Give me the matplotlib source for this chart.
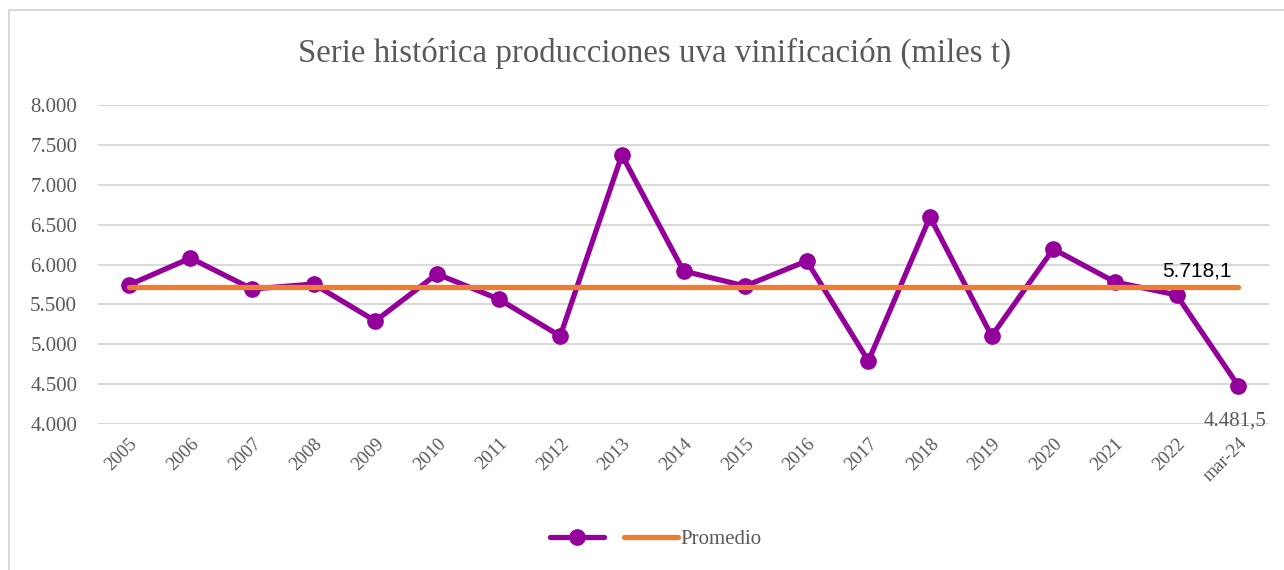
import matplotlib.pyplot as plt
from matplotlib.patches import Rectangle
from matplotlib.lines import Line2D
from matplotlib.ticker import FuncFormatter

plt.rcParams['font.family'] = 'Liberation Serif'

# Data (miles t)
categories = ['2005', '2006', '2007', '2008', '2009', '2010', '2011', '2012', '2013', '2014',
              '2015', '2016', '2017', '2018', '2019', '2020', '2021', '2022', 'mar-24']
produccion = [5743, 6081, 5693, 5755, 5292, 5881, 5567, 5103, 7373, 5918,
              5730, 6044, 4790, 6596, 5103, 6194, 5781, 5618, 4481.5]
promedio = 5718.1

purple = '#93009A'
orange = '#ED7D31'
gray_text = '#595959'

fig = plt.figure(figsize=(12.84, 5.70), dpi=100)
fig.patch.set_facecolor('white')

# outer chart frame
fig.patches.append(Rectangle((9 / 1284, -0.1), 1.2, 1 - 10 / 570 + 0.1, transform=fig.transFigure,
                             facecolor='none', edgecolor='#D9D9D9', linewidth=1.5))

ax = fig.add_axes([98 / 1284, 1 - 424 / 570, (1269 - 98) / 1284, (424 - 105) / 570])
x = list(range(len(categories)))

ax.plot(x, produccion, color=purple, linewidth=3.8, marker='o', markersize=11,
        solid_capstyle='round', zorder=3)
ax.plot(x, [promedio] * len(x), color=orange, linewidth=3.8, solid_capstyle='round', zorder=4)

ax.set_xlim(-0.5, len(x) - 0.5)
ax.set_ylim(4000, 8000)
ax.set_yticks(range(4000, 8001, 500))
ax.yaxis.set_major_formatter(FuncFormatter(lambda v, p: f'{int(v):,}'.replace(',', '.')))
ax.set_xticks(x)
ax.set_xticklabels(categories, rotation=45, ha='right', rotation_mode='anchor')
ax.tick_params(axis='both', length=0, colors=gray_text)
ax.tick_params(axis='y', pad=15, labelsize=15)
ax.tick_params(axis='x', pad=8, labelsize=13.5)
ax.grid(axis='y', color='#D9D9D9', linewidth=1.5)
ax.set_axisbelow(True)
for s in ax.spines.values():
    s.set_visible(False)

# data labels
ax.text(len(x) - 1.1, promedio + 80, '5.718,1', ha='right', va='bottom', fontsize=15,
        family='Liberation Sans', color='black')
ax.text(len(x) - 1.05, produccion[-1] - 330, '4.481,5', ha='center', va='top', fontsize=15,
        color=gray_text)

fig.text(655 / 1284, 1 - 53 / 570, 'Serie histórica producciones uva vinificación (miles t)',
         ha='center', va='center', fontsize=23.7, color=gray_text)

handles = [Line2D([], [], color=purple, linewidth=3.8, marker='o', markersize=11,
                  solid_capstyle='round'),
           Line2D([], [], color=orange, linewidth=3.8, solid_capstyle='round')]
fig.legend(handles, [' ', 'Promedio'], loc='center', bbox_to_anchor=(656 / 1284, 1 - 539 / 570),
           ncol=2, frameon=False, fontsize=15, labelcolor=gray_text, handlelength=2.6,
           handletextpad=0.1, columnspacing=0.6)

fig.savefig('out.png', dpi=100)
